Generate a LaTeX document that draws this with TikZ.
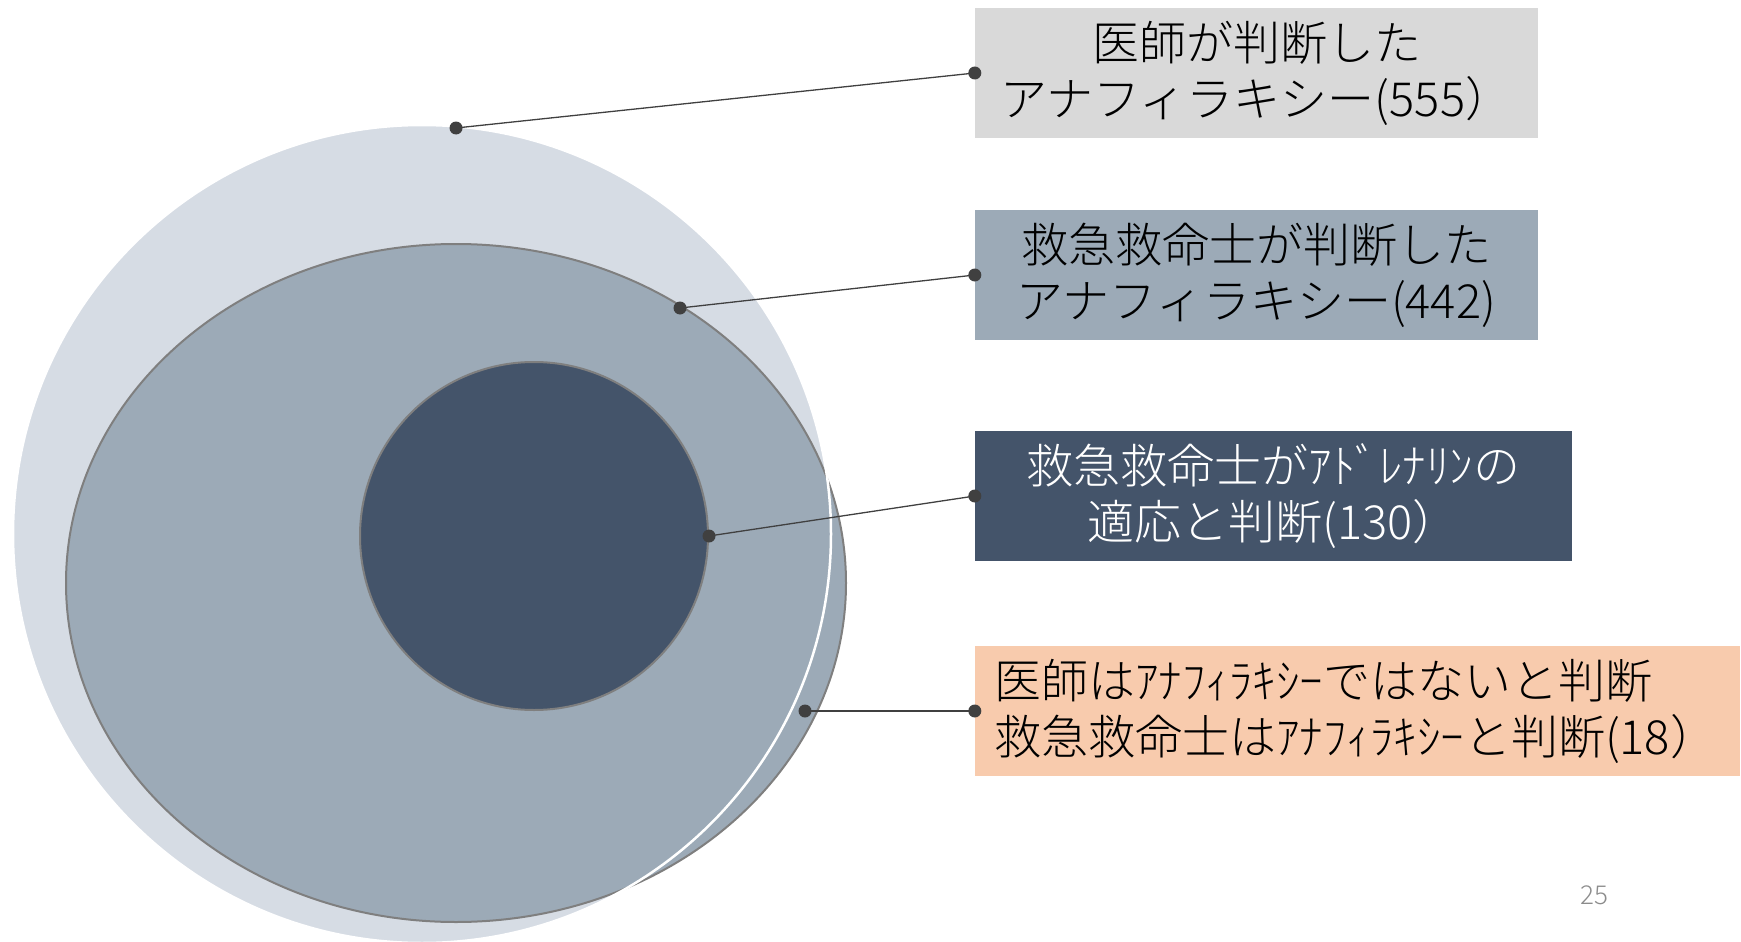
\documentclass[tikz,border=0pt]{standalone}
\usepackage{fontspec}
\setmainfont{Noto Sans CJK JP Light}
\definecolor{lightc}{HTML}{D6DCE4}
\definecolor{medc}{HTML}{9CAAB7}
\definecolor{darkc}{HTML}{44546A}
\definecolor{greyc}{HTML}{D9D9D9}
\definecolor{peachc}{HTML}{F8CBAD}
\definecolor{linec}{HTML}{404040}
\definecolor{edgec}{HTML}{7F7F7F}
\definecolor{pagec}{HTML}{8C8C8C}
\tikzset{
  box/.style={rectangle, inner sep=0pt, minimum height=130pt, align=center,
    font=\fontsize{47}{56}\selectfont},
  conn/.style={draw=linec, line width=1.3pt},
  dotc/.style={fill=linec},
}
\begin{document}
\begin{tikzpicture}[x=1pt,y=-1pt]
\useasboundingbox (0,0) rectangle (1741,942);
% shapes
\fill[lightc] (422,534) circle (409pt);
\filldraw[fill=medc, draw=edgec, line width=2pt] (456,583) ellipse [x radius=390pt, y radius=339pt];
\draw[white, line width=2.5pt] (422,534) circle (409pt);
\node[circle, fill=darkc, draw=edgec, line width=2pt, minimum size=348pt, inner sep=0pt] (dark) at (534,536) {};
% boxes
\node[box, fill=greyc, minimum width=563pt] (b1) at (1256.5,73) {医師が判断した\\アナフィラキシー(555）};
\node[box, fill=medc, minimum width=563pt] (b2) at (1256.5,275) {救急救命士が判断した\\アナフィラキシー(442)};
\node[box, fill=darkc, text=white, minimum width=597pt] (b3) at (1273.5,496) {救急救命士がｱﾄﾞﾚﾅﾘﾝの\\適応と判断(130）};
\node[box, fill=peachc, minimum width=765pt, text width=727pt, align=left] (b4) at (1357.5,711) {医師はｱﾅﾌｨﾗｷｼｰではないと判断\\救急救命士はｱﾅﾌｨﾗｷｼｰと判断(18）};
% connector ends
\coordinate (d1) at (456,128);
\coordinate (d2) at (680,308);
\coordinate (d4) at (805,711);
\draw[conn] (d1) -- (b1.west);
\draw[conn] (d2) -- (b2.west);
\draw[conn] (dark.east) -- (b3.west);
\draw[conn] (d4) -- (b4.west);
\foreach \p in {d1,d2,dark.east,d4,b1.west,b2.west,b3.west,b4.west}
  \fill[dotc] (\p) circle (6.5pt);
% page number
\node[text=pagec, font=\fontsize{26}{30}\selectfont] (pg) at (1594,895) {25};
\end{tikzpicture}
\end{document}
